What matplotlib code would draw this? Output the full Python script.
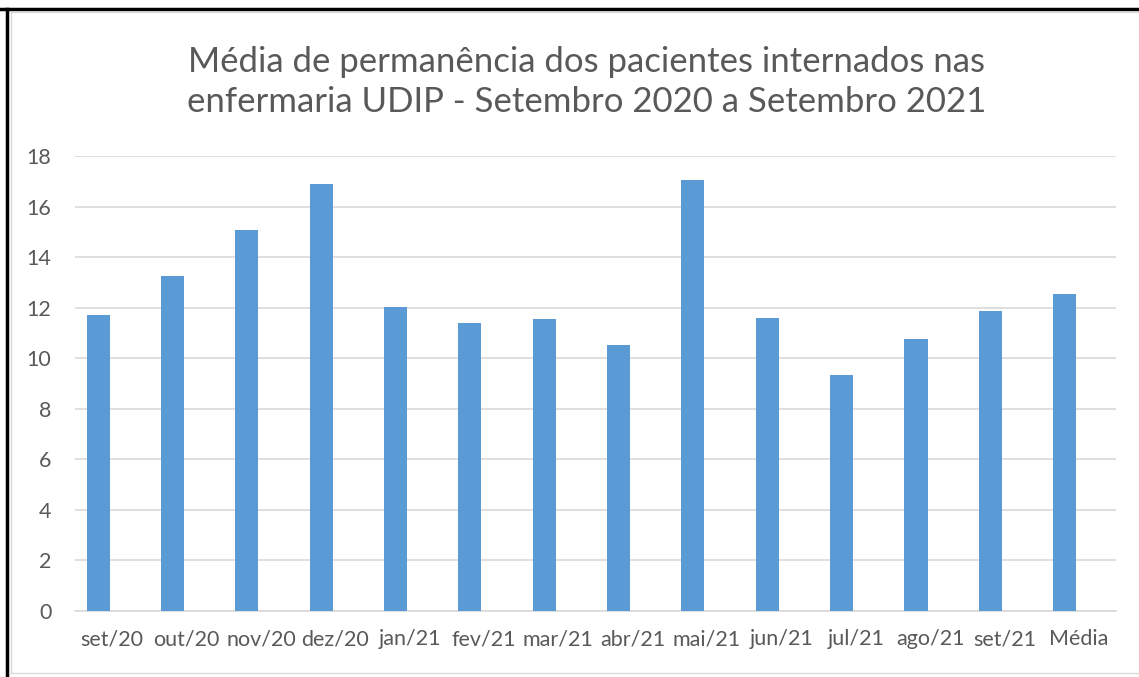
import matplotlib
matplotlib.use('Agg')
import matplotlib.pyplot as plt
from matplotlib.lines import Line2D

meses = ['set/20', 'out/20', 'nov/20', 'dez/20', 'jan/21', 'fev/21', 'mar/21',
         'abr/21', 'mai/21', 'jun/21', 'jul/21', 'ago/21', 'set/21', 'Média']
permanencia = [11.71, 13.25, 15.07, 16.89, 12.03, 11.39, 11.55,
               10.52, 17.05, 11.59, 9.34, 10.76, 11.87, 12.54]
yticks = [0, 2, 4, 6, 8, 10, 12, 14, 16, 18]

plt.rcParams['font.family'] = ['Lato', 'DejaVu Sans']

W, H = 1139, 677
fig = plt.figure(figsize=(W / 100, H / 100), dpi=100)
ax = fig.add_axes([75 / W, 1 - 611 / H, (1116 - 75) / W, (611 - 156) / H])

x = list(range(len(meses)))
# barras deslocadas para a esquerda (segunda série vazia no original)
ax.bar([i - 0.19 for i in x], permanencia, width=0.31, color='#5b9bd5', zorder=3)

ax.set_xlim(-0.5, len(meses) - 0.5)
ax.set_ylim(0, 18)
ax.set_yticks(yticks)
ax.set_xticks(x)
ax.set_xticklabels(meses)
ax.tick_params(axis='both', length=0, colors='#595959', labelsize=15.5)
ax.tick_params(axis='x', pad=13)
ax.tick_params(axis='y', pad=17)
ax.grid(axis='y', color='#d9d9d9', linewidth=1.2, zorder=0)
for s in ['top', 'right', 'left']:
    ax.spines[s].set_visible(False)
ax.spines['bottom'].set_color('#d9d9d9')
ax.spines['bottom'].set_linewidth(1.2)

fig.text(587 / W, 1 - 82 / H,
         'Média de permanência dos pacientes internados nas\nenfermaria UDIP - Setembro 2020 a Setembro 2021',
         ha='center', va='center', fontsize=25, color='#595959', linespacing=1.33)

# bordas
fig.add_artist(Line2D([0, 1], [1 - 9 / H, 1 - 9 / H], color='black', lw=2.5))
fig.add_artist(Line2D([7 / W, 7 / W], [0, 1 - 9 / H], color='black', lw=2.5))
fig.add_artist(Line2D([11 / W, 1], [1 - 12 / H, 1 - 12 / H], color='#d9d9d9', lw=1))
fig.add_artist(Line2D([11 / W, 11 / W], [1 - 673 / H, 1 - 12 / H], color='#d9d9d9', lw=1))
fig.add_artist(Line2D([11 / W, 1], [1 - 673 / H, 1 - 673 / H], color='#d9d9d9', lw=1))

fig.savefig('out.png', dpi=100)
